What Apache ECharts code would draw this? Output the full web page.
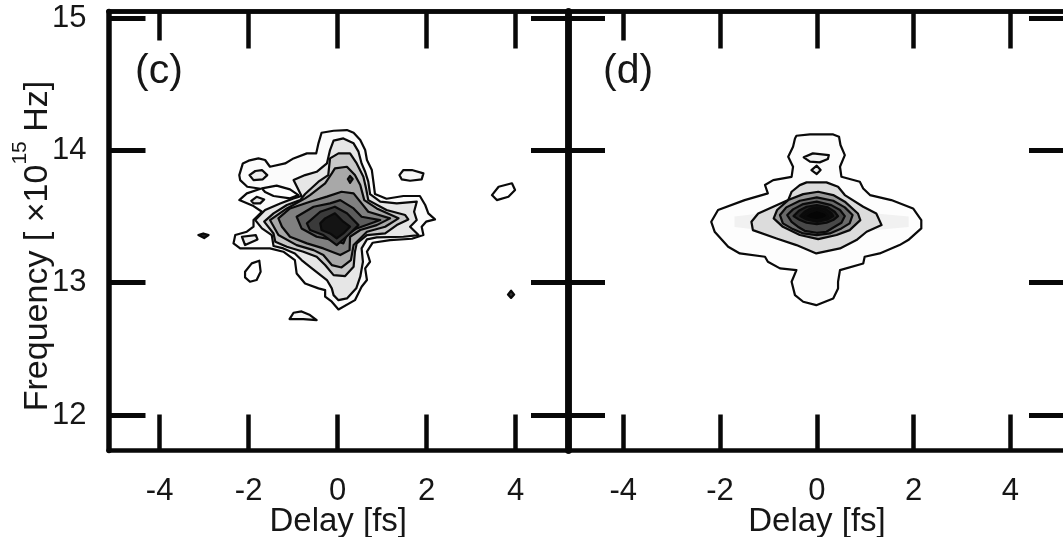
<!DOCTYPE html>
<html><head><meta charset="utf-8">
<style>html,body{margin:0;padding:0;background:#fff}#m{width:1063px;height:537px;filter:blur(0.45px)}</style>
<script src="https://cdn.jsdelivr.net/npm/echarts@6/dist/echarts.min.js"></script>
</head><body><div id="m"></div>
<script>
const delayTicks=[-4,-2,0,2,4];
const delayTicksLong=[-2,0,2,4];
const delayTicksShort=[-4];
const freqTicks=[12,13,14,15];

// Panel (c) contours: [delay fs, frequency 1e15 Hz]
const c1=[[-0.36,14.133],[-0.09,14.148],[0.21,14.153],[0.36,14.133],[0.51,14.078],[0.62,14.002],[0.66,13.927],[0.77,13.851],[0.81,13.750],[0.84,13.670],[1.10,13.634],[1.48,13.655],[1.85,13.655],[1.97,13.587],[2.04,13.524],[2.19,13.478],[1.99,13.461],[1.89,13.423],[1.93,13.360],[1.67,13.332],[1.18,13.322],[0.79,13.302],[0.66,13.234],[0.73,13.158],[0.62,13.108],[0.66,13.020],[0.54,12.969],[0.39,12.868],[0.02,12.798],[-0.13,12.856],[-0.28,12.894],[-0.28,12.944],[-0.43,12.957],[-0.73,12.994],[-0.92,13.070],[-0.96,13.171],[-1.22,13.234],[-1.52,13.259],[-2.19,13.259],[-2.34,13.297],[-2.30,13.360],[-2.04,13.385],[-1.89,13.423],[-1.89,13.473],[-1.70,13.536],[-1.89,13.579],[-2.21,13.624],[-2.04,13.675],[-1.73,13.710],[-2.03,13.725],[-2.19,13.775],[-2.21,13.813],[-2.13,13.901],[-2.00,13.922],[-1.78,13.939],[-1.63,13.927],[-1.52,13.876],[-1.18,13.901],[-0.99,13.939],[-0.69,13.977],[-0.48,13.977],[-0.43,14.053]];
const cEye=[[-1.70,13.712],[-1.37,13.733],[-1.07,13.705],[-0.88,13.662],[-1.07,13.637],[-1.44,13.655],[-1.63,13.685]];
const cOvalA=[[-1.98,13.813],[-1.85,13.844],[-1.70,13.851],[-1.58,13.813],[-1.68,13.781],[-1.89,13.775]];
const cOvalB=[[-1.94,13.619],[-1.82,13.649],[-1.65,13.629],[-1.74,13.599],[-1.89,13.599]];
const cIslandC=[[-2.15,13.347],[-1.84,13.360],[-1.80,13.327],[-2.08,13.284]];
const cSpotD=[[-3.13,13.360],[-3.02,13.372],[-2.90,13.360],[-3.00,13.337]];
const cIslandE=[[-2.08,13.083],[-1.93,13.146],[-1.76,13.166],[-1.73,13.083],[-1.82,13.020],[-1.97,13.007],[-2.08,13.040]];
const cIslandF=[[-1.08,12.725],[-0.99,12.773],[-0.81,12.783],[-0.62,12.755],[-0.47,12.717],[-0.77,12.725]];
const cIslandG=[[1.39,13.813],[1.48,13.851],[1.67,13.851],[1.93,13.826],[1.89,13.781],[1.63,13.770],[1.44,13.781]];
const cIslandH=[[3.47,13.662],[3.62,13.725],[3.92,13.751],[3.99,13.700],[3.84,13.649],[3.58,13.624]];
const cSpotI=[[3.83,12.91],[3.90,12.94],[3.97,12.91],[3.90,12.885]];
const c2=[[-0.09,14.073],[0.13,14.090],[0.36,14.053],[0.47,13.990],[0.54,13.901],[0.62,13.838],[0.69,13.763],[0.73,13.670],[0.96,13.612],[1.33,13.599],[1.78,13.612],[1.72,13.536],[1.78,13.473],[1.63,13.423],[1.82,13.360],[1.48,13.347],[0.88,13.342],[0.66,13.327],[0.54,13.259],[0.57,13.158],[0.51,13.045],[0.42,12.957],[0.21,12.881],[0.02,12.868],[-0.09,12.906],[-0.13,12.957],[-0.24,13.020],[-0.62,13.120],[-0.81,13.171],[-0.96,13.221],[-1.22,13.259],[-1.44,13.277],[-1.48,13.360],[-1.70,13.410],[-1.85,13.473],[-1.63,13.549],[-1.29,13.599],[-0.99,13.637],[-0.81,13.655],[-0.99,13.775],[-0.73,13.813],[-0.47,13.838],[-0.24,13.901],[-0.17,14.002]];
const c3=[[-0.17,13.939],[0.02,13.977],[0.28,13.977],[0.43,13.901],[0.58,13.801],[0.64,13.713],[0.69,13.624],[1.10,13.549],[1.52,13.511],[1.59,13.478],[1.33,13.435],[1.07,13.372],[0.66,13.360],[0.43,13.297],[0.39,13.234],[0.36,13.120],[0.17,13.050],[-0.09,13.057],[-0.28,13.133],[-0.47,13.196],[-0.77,13.234],[-1.14,13.272],[-1.40,13.309],[-1.44,13.372],[-1.65,13.461],[-1.44,13.524],[-1.14,13.587],[-0.84,13.624],[-0.73,13.670],[-0.43,13.763],[-0.21,13.813]];
const c4=[[-0.06,13.864],[0.21,13.876],[0.39,13.813],[0.51,13.738],[0.60,13.624],[0.88,13.561],[1.37,13.486],[1.07,13.423],[0.66,13.385],[0.36,13.284],[0.30,13.171],[0.09,13.115],[-0.13,13.133],[-0.32,13.209],[-0.54,13.246],[-0.92,13.284],[-1.33,13.360],[-1.52,13.473],[-1.14,13.561],[-0.73,13.637],[-0.62,13.662],[-0.28,13.750],[-0.13,13.826]];
const c5=[[-1.33,13.486],[-1.07,13.561],[-0.62,13.612],[-0.24,13.650],[0.09,13.687],[0.36,13.675],[0.54,13.599],[0.69,13.536],[1.18,13.486],[0.88,13.435],[0.51,13.398],[0.28,13.347],[0.27,13.246],[0.06,13.209],[-0.32,13.259],[-0.69,13.297],[-1.07,13.347],[-1.25,13.423]];
const c6=[[-0.92,13.498],[-0.54,13.574],[-0.17,13.599],[0.06,13.624],[0.36,13.561],[0.54,13.498],[0.96,13.473],[0.43,13.410],[0.21,13.360],[0.13,13.297],[-0.09,13.322],[-0.47,13.347],[-0.81,13.410]];
const c7=[[-0.69,13.448],[-0.39,13.536],[-0.06,13.574],[0.21,13.524],[0.47,13.435],[0.24,13.360],[-0.02,13.284],[-0.32,13.360],[-0.62,13.398]];
const c8=[[-0.39,13.448],[-0.28,13.486],[-0.06,13.524],[0.13,13.461],[0.28,13.423],[0.13,13.372],[-0.02,13.335],[-0.17,13.372],[-0.36,13.398]];
const cDot=[[0.23,13.783],[0.28,13.806],[0.34,13.783],[0.28,13.755]];

// Panel (d) contours
const d1=[[-0.42,14.110],[-0.14,14.120],[0.34,14.120],[0.46,14.103],[0.49,14.040],[0.58,13.964],[0.48,13.876],[0.51,13.800],[0.89,13.763],[0.96,13.712],[1.10,13.662],[1.54,13.624],[1.99,13.561],[2.16,13.473],[2.16,13.410],[1.89,13.322],[1.71,13.284],[1.30,13.221],[0.99,13.196],[0.96,13.145],[0.48,13.095],[0.44,13.007],[0.44,12.956],[0.34,12.881],[-0.01,12.830],[-0.28,12.856],[-0.45,12.906],[-0.52,13.007],[-0.42,13.095],[-0.76,13.108],[-1.01,13.158],[-1.07,13.196],[-1.59,13.221],[-1.83,13.271],[-2.11,13.385],[-2.18,13.460],[-2.04,13.549],[-1.49,13.624],[-1.01,13.675],[-1.07,13.738],[-0.90,13.775],[-0.52,13.800],[-0.49,13.876],[-0.59,13.952],[-0.49,14.027],[-0.45,14.090]];
const dGlow=[[-1.70,13.500],[-1.00,13.530],[1.00,13.530],[1.90,13.500],[1.90,13.420],[1.00,13.390],[-1.00,13.390],[-1.70,13.420]];
const dOval=[[-0.27,13.947],[-0.08,13.977],[0.25,13.964],[0.23,13.934],[0.06,13.909],[-0.14,13.914]];
const dSmall=[[-0.11,13.851],[0,13.884],[0.08,13.851],[0,13.821]];
const d2=[[-0.35,13.737],[-0.21,13.758],[0.20,13.758],[0.44,13.725],[0.58,13.662],[0.96,13.574],[1.23,13.523],[1.34,13.435],[1.03,13.385],[0.82,13.322],[0.48,13.259],[-0.01,13.221],[-0.42,13.284],[-0.83,13.334],[-1.32,13.397],[-1.35,13.460],[-1.21,13.523],[-0.90,13.574],[-0.59,13.624],[-0.52,13.687]];
const d3=[[0.03,13.687],[0.34,13.662],[0.58,13.612],[0.85,13.523],[0.90,13.473],[0.68,13.397],[0.41,13.360],[0.03,13.329],[-0.35,13.360],[-0.70,13.422],[-0.89,13.486],[-0.82,13.549],[-0.59,13.624],[-0.28,13.669]];
const d4=[[0,13.644],[0.34,13.619],[0.58,13.569],[0.74,13.511],[0.68,13.448],[0.51,13.410],[0.27,13.372],[0,13.360],[-0.28,13.372],[-0.52,13.410],[-0.70,13.448],[-0.76,13.511],[-0.63,13.569],[-0.35,13.619]];
const d5=[[0,13.612],[0.30,13.586],[0.48,13.549],[0.58,13.503],[0.51,13.453],[0.37,13.423],[0.20,13.385],[0,13.377],[-0.25,13.392],[-0.39,13.423],[-0.52,13.460],[-0.61,13.511],[-0.49,13.554],[-0.28,13.594]];
const d6=[[0,13.586],[0.23,13.569],[0.37,13.536],[0.44,13.503],[0.34,13.473],[0.20,13.453],[0,13.443],[-0.21,13.453],[-0.35,13.473],[-0.48,13.503],[-0.37,13.544],[-0.21,13.574]];
const d7=[[0,13.569],[0.20,13.554],[0.30,13.528],[0.34,13.503],[0.23,13.478],[0,13.460],[-0.21,13.478],[-0.34,13.503],[-0.25,13.536],[-0.14,13.559]];
const d8=[[0,13.549],[0.17,13.528],[0.23,13.503],[0.13,13.483],[0,13.473],[-0.14,13.483],[-0.25,13.503],[-0.14,13.531]];

const FONT='"Liberation Sans",Arial,sans-serif';
const INK='#080808';
const TEXT='#161616';

function contour(points,fill,panel,stroke){
  return {type:'custom',coordinateSystem:'cartesian2d',xAxisIndex:panel*3,yAxisIndex:panel*2,
    silent:true,animation:false,data:points,
    renderItem(params,api){
      if(params.dataIndex!==0) return null;
      return {type:'polygon',shape:{points:points.map(p=>api.coord(p))},
        style:{fill:fill,stroke:stroke===0?'none':'#0a0a0a',lineWidth:2.2,lineJoin:'round'}};
    }};
}
const series=[
 contour(c1,'#fbfbfb',0),contour(cEye,'#ffffff',0),
 contour(cOvalA,'#ececec',0),contour(cOvalB,'#e6e6e6',0),contour(cIslandC,'#eeeeee',0),
 contour(cSpotD,'#222222',0),contour(cIslandE,'#ffffff',0),contour(cIslandF,'#f6f6f6',0),
 contour(cIslandG,'#f6f6f6',0),contour(cIslandH,'#ffffff',0),contour(cSpotI,'#333333',0),
 contour(c2,'#e6e6e6',0),contour(c3,'#c8c8c8',0),contour(c4,'#a8a8a8',0),contour(c5,'#808080',0),
 contour(c6,'#5c5c5c',0),contour(c7,'#3a3a3a',0),contour(c8,'#141414',0),contour(cDot,'#333333',0),
 contour(d1,'#fdfdfd',1),contour(dGlow,'#f1f1f1',1,0),contour(dOval,'#f4f4f4',1),contour(dSmall,'#eeeeee',1),
 contour(d2,'#dcdcdc',1),contour(d3,'#989898',1),contour(d4,'#6a6a6a',1),contour(d5,'#484848',1),
 contour(d6,'#222222',1),contour(d7,'#0c0c0c',1),contour(d8,'#050505',1)
];
function xA(grid,min,max,pos,vals,len,showLab,name){
  return {type:'value',gridIndex:grid,position:pos,min,max,
    axisLine:{show:true,onZero:false,lineStyle:{color:INK,width:4.5}},
    axisTick:{show:true,inside:true,length:len,customValues:vals,lineStyle:{color:INK,width:4.5}},
    axisLabel:{show:showLab,customValues:vals,margin:25,color:TEXT,fontFamily:FONT,fontSize:31},
    splitLine:{show:false},
    name:name||'',nameLocation:'middle',nameGap:55,nameMoveOverlap:false,
    nameTextStyle:{color:TEXT,fontFamily:FONT,fontSize:33}};
}
function yA(grid,pos,lab,w,name){
  return {type:'value',gridIndex:grid,position:pos,min:11.732,max:15.049,
    axisLine:{show:true,onZero:false,lineStyle:{color:INK,width:w}},
    axisTick:{show:true,inside:true,length:37,customValues:freqTicks,lineStyle:{color:INK,width:5}},
    axisLabel:{show:lab,customValues:freqTicks,margin:22,color:TEXT,fontFamily:FONT,fontSize:31,padding:[3,0,0,0]},
    splitLine:{show:false},
    name:name||'',nameLocation:'middle',nameRotate:90,nameGap:54,nameMoveOverlap:false,
    nameTextStyle:{color:TEXT,fontFamily:FONT,fontSize:34,padding:[0,30,0,0],
      rich:{a:{fontFamily:FONT,fontSize:34,color:TEXT,verticalAlign:'bottom'},
            s:{fontFamily:FONT,fontSize:21,color:TEXT,verticalAlign:'top',padding:[0,0,24,0]}}}};
}
const cMin=-5.15,cMax=5.18,dMin=-5.14,dMax=5.15;
const option={
 backgroundColor:'#fff',animation:false,
 title:[
  {text:'(c)',left:130,top:46,textStyle:{fontFamily:FONT,fontSize:41,fontWeight:'normal',color:TEXT}},
  {text:'(d)',left:598,top:46,textStyle:{fontFamily:FONT,fontSize:41,fontWeight:'normal',color:TEXT}}],
 grid:[
  {left:108.5,top:11.5,width:459.5,height:439,containLabel:false,outerBoundsMode:'none'},
  {left:568,top:11.5,width:498,height:439,containLabel:false,outerBoundsMode:'none'}],
 xAxis:[
  xA(0,cMin,cMax,'bottom',delayTicks,36,true,'Delay [fs]'),
  xA(0,cMin,cMax,'top',delayTicksLong,37,false),
  xA(0,cMin,cMax,'top',delayTicksShort,29,false),
  xA(1,dMin,dMax,'bottom',delayTicks,36,true,'Delay [fs]'),
  xA(1,dMin,dMax,'top',delayTicksLong,37,false),
  xA(1,dMin,dMax,'top',delayTicksShort,29,false)],
 yAxis:[
  yA(0,'left',true,5.5,'{a|Frequency [ ×10}{s|15}{a| Hz]}'),
  yA(0,'right',false,6.5),
  yA(1,'left',false,6.5),
  yA(1,'right',false,5)],
 series
};
echarts.init(document.getElementById('m'),null,{renderer:'canvas'}).setOption(option);
</script></body></html>
